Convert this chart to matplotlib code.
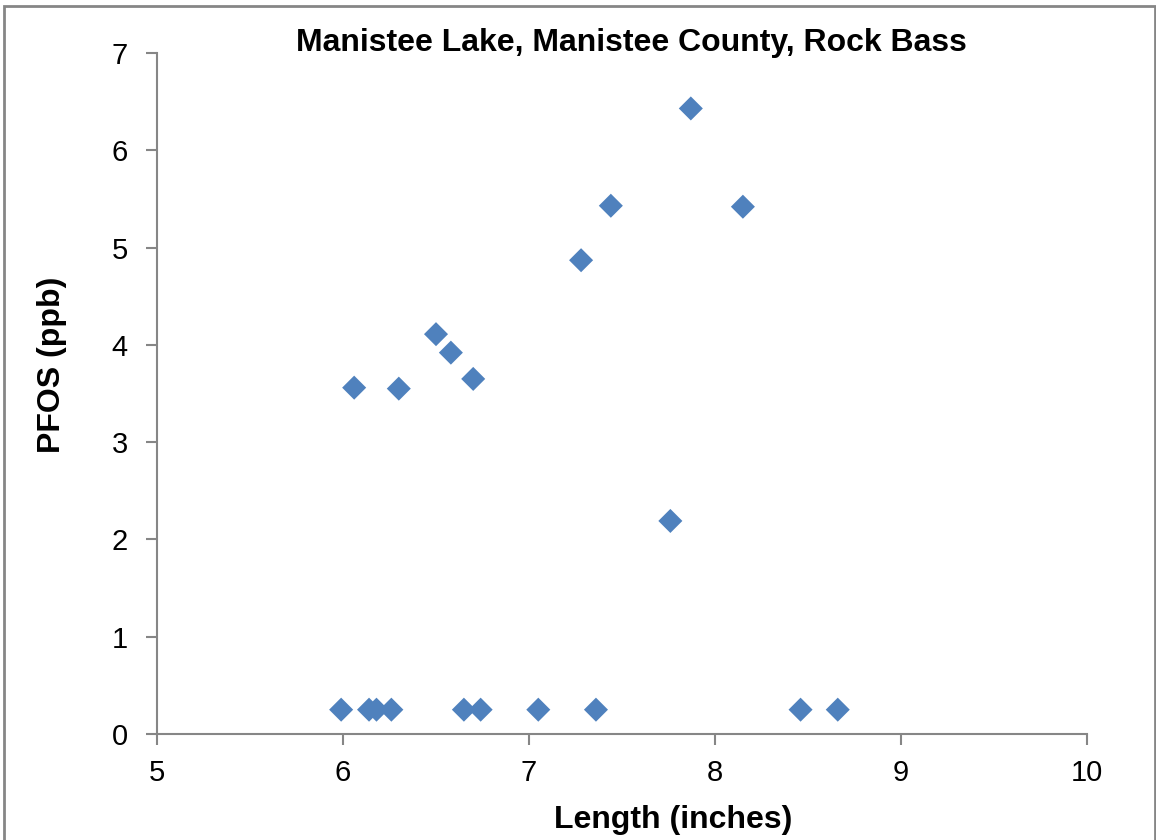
import matplotlib
matplotlib.use("Agg")
import matplotlib.pyplot as plt
from matplotlib.patches import Rectangle

# Rock bass samples, Manistee Lake
length_in = [5.99, 6.14, 6.18, 6.26, 6.65, 6.74, 7.05, 7.36, 8.46, 8.66,
             6.06, 6.30, 6.50, 6.58, 6.70, 7.28, 7.44, 7.76, 7.87, 8.15]
pfos_ppb = [0.25, 0.25, 0.25, 0.25, 0.25, 0.25, 0.25, 0.25, 0.25, 0.25,
            3.56, 3.55, 4.11, 3.92, 3.65, 4.87, 5.43, 2.19, 6.43, 5.42]

x_ticks = [5, 6, 7, 8, 9, 10]
y_ticks = [0, 1, 2, 3, 4, 5, 6, 7]

plt.rcParams['font.family'] = ['Liberation Sans', 'DejaVu Sans']

fig = plt.figure(figsize=(11.56, 8.4), dpi=100)
ax = fig.add_axes([157 / 1156, 106 / 840, 930 / 1156, 681 / 840])

ax.scatter(length_in, pfos_ppb, marker='D', s=150, color='#4F81BD',
           edgecolors='none', zorder=3)

ax.set_xlim(5, 10)
ax.set_ylim(0, 7)
ax.set_xticks(x_ticks)
ax.set_yticks(y_ticks)

for side in ['top', 'right']:
    ax.spines[side].set_visible(False)
for side in ['left', 'bottom']:
    ax.spines[side].set_color('#868686')
    ax.spines[side].set_linewidth(1.5)
ax.tick_params(axis='both', colors='#868686', width=1.5, length=8,
               labelsize=21, labelcolor='black')
ax.tick_params(axis='x', pad=10)
ax.tick_params(axis='y', pad=13)

ax.set_title('Manistee Lake, Manistee County, Rock Bass', fontsize=23,
             fontweight='bold', x=0.51, y=1.003, va='center')
ax.set_xlabel('Length (inches)', fontsize=23, fontweight='bold', va='center')
ax.xaxis.set_label_coords(0.555, -0.127)
ax.set_ylabel('PFOS (ppb)', fontsize=23, fontweight='bold', va='center')
ax.yaxis.set_label_coords(-0.113, 0.542)

# chart area border
fig.patches.append(Rectangle((4 / 1156, -0.05), 1151 / 1156, 1.05 - 6 / 840,
                             transform=fig.transFigure, fill=False,
                             edgecolor='#868686', linewidth=2))

fig.savefig('out.png', dpi=100)
